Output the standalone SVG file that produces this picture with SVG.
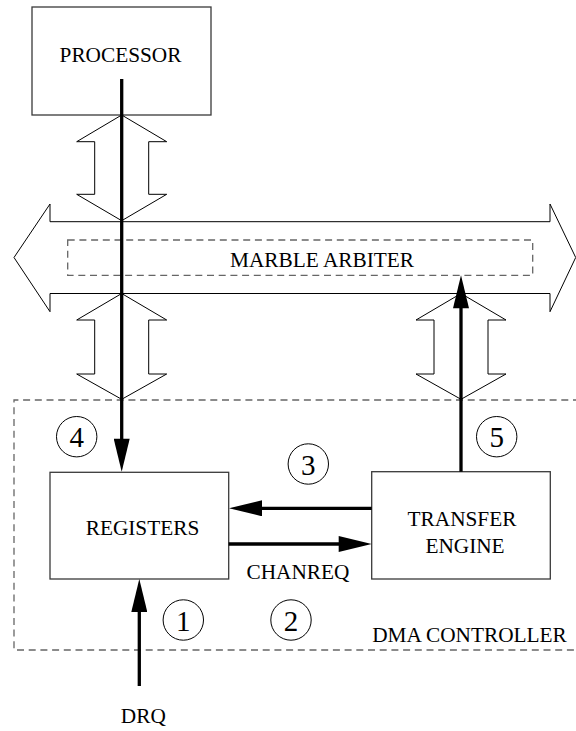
<svg xmlns="http://www.w3.org/2000/svg" width="576" height="731" viewBox="0 0 576 731" font-family="'Liberation Serif', 'Times New Roman', 'DejaVu Serif', serif">
  <style>
    .box { fill: #ffffff; stroke: #3a3a3a; stroke-width: 1.3; }
    .label { font-family: "Liberation Serif", "Times New Roman", "DejaVu Serif", serif; font-size: 21.3px; fill: #000000; text-anchor: middle; }
    .num { font-family: "Liberation Serif", "Times New Roman", "DejaVu Serif", serif; font-size: 29px; fill: #000000; text-anchor: middle; }
    .ring { fill: none; stroke: #000000; stroke-width: 1; }
    .dash { fill: none; stroke: #666666; stroke-width: 1.3; stroke-dasharray: 7 4.7; }
    .hollow { fill: #ffffff; stroke: #000000; stroke-width: 1; stroke-linejoin: miter; }
    .wire { fill: none; stroke: #000000; stroke-width: 3.3; }
  </style>
  <defs>
    <marker id="head" markerUnits="userSpaceOnUse" markerWidth="34" markerHeight="16" viewBox="0 0 33 16" refX="23" refY="8" orient="auto">
      <path d="M0,0 L33,8 L0,16 Z" fill="#000000"/>
    </marker>
  </defs>

  <!-- system bus: wide double-headed outline arrow -->
  <g id="bus">
    <polygon class="hollow" points="14,257.5 50,204 50,221.7 550,221.7 550,204 575.7,257.5 550,311.7 550,293.5 50,293.5 50,311.7"/>
  </g>

  <!-- arbiter region inside the bus -->
  <g id="marble-arbiter">
    <rect class="dash" x="67.7" y="240" width="465" height="35.3"/>
    <text class="label" x="322" y="267.3">MARBLE ARBITER</text>
  </g>

  <!-- DMA controller boundary (open to the right edge) -->
  <g id="dma-controller">
    <path class="dash" d="M580,400 H14 V650 H580"/>
    <text class="label" x="469.5" y="641.7">DMA CONTROLLER</text>
  </g>

  <g id="processor">
    <rect class="box" x="32" y="7" width="179" height="108"/>
    <text class="label" x="120.5" y="62">PROCESSOR</text>
  </g>

  <g id="registers">
    <rect class="box" x="50" y="472.3" width="178.7" height="106.7"/>
    <text class="label" x="142.5" y="535">REGISTERS</text>
  </g>

  <g id="transfer-engine">
    <rect class="box" x="371.7" y="471.7" width="178.6" height="107.3"/>
    <text class="label" x="462" y="526">TRANSFER</text>
    <text class="label" x="465" y="553.3">ENGINE</text>
  </g>

  <!-- step markers -->
  <g id="step-1"><circle class="ring" cx="183.3" cy="620" r="20.2"/><text class="num" x="183.3" y="630.5">1</text></g>
  <g id="step-2"><circle class="ring" cx="291" cy="620" r="20.2"/><text class="num" x="291" y="630.5">2</text></g>
  <g id="step-3"><circle class="ring" cx="308.3" cy="464" r="20.2"/><text class="num" x="308.3" y="474.5">3</text></g>
  <g id="step-4"><circle class="ring" cx="76.7" cy="436.7" r="20.2"/><text class="num" x="76.7" y="447.2">4</text></g>
  <g id="step-5"><circle class="ring" cx="496.7" cy="436.7" r="20.2"/><text class="num" x="496.7" y="447.2">5</text></g>

  <g id="connectors">
    <!-- bus taps: double-headed outline arrows -->
    <polygon class="hollow" points="121.7,115 166.7,141.7 148.7,141.7 148.7,194.3 166.7,194.3 121.7,220.7 76.7,194.3 94.7,194.3 94.7,141.7 76.7,141.7"/>
    <polygon class="hollow" points="121.7,293.5 166.7,320 148.7,320 148.7,374 166.7,374 121.7,399.3 76.7,374 94.7,374 94.7,320 76.7,320"/>
    <polygon class="hollow" points="461,293.5 506,320 488,320 488,374 506,374 461,399.3 416,374 434,374 434,320 416,320"/>

    <!-- processor to registers -->
    <line class="wire" x1="121.7" y1="79" x2="121.7" y2="461.7" marker-end="url(#head)"/>
    <!-- transfer engine to arbiter -->
    <line class="wire" x1="461" y1="471.7" x2="461" y2="285.3" marker-end="url(#head)"/>
    <!-- transfer engine to registers -->
    <line class="wire" x1="371.7" y1="508.3" x2="239" y2="508.3" marker-end="url(#head)"/>
    <!-- registers to transfer engine (CHANREQ) -->
    <line class="wire" x1="228.7" y1="544" x2="361.7" y2="544" marker-end="url(#head)"/>
    <text class="label" x="298" y="579.3">CHANREQ</text>
    <!-- DRQ into registers -->
    <line class="wire" x1="139.3" y1="686" x2="139.3" y2="589" marker-end="url(#head)"/>
    <text class="label" x="143.3" y="723.3">DRQ</text>
  </g>
</svg>
